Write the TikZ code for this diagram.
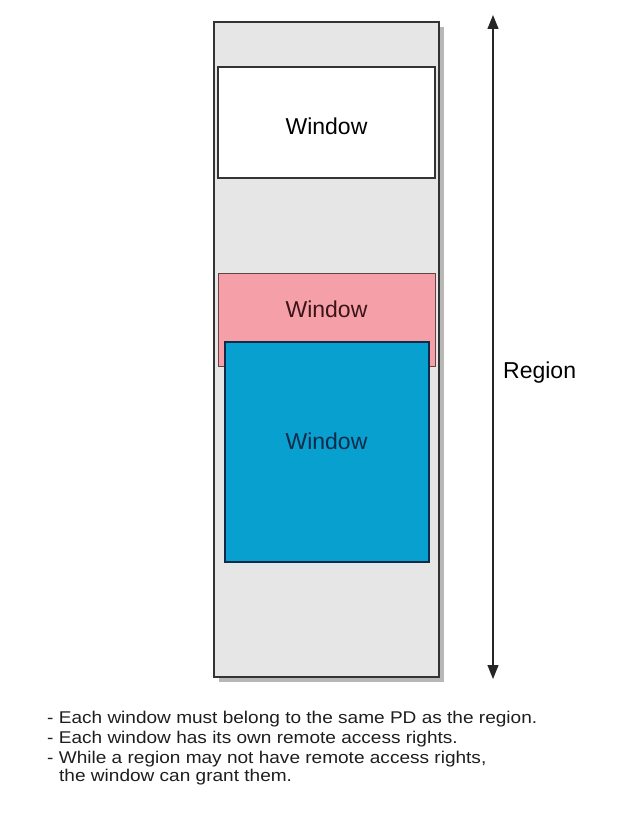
\documentclass[tikz,border=0pt]{standalone}
\usepackage{fontspec}
\setmainfont{Liberation Sans}
\newfontfamily\widefont[FakeStretch=1.12]{Liberation Sans}
\usetikzlibrary{shadows,arrows.meta}
\definecolor{regiongray}{HTML}{E6E6E6}
\definecolor{winpink}{HTML}{F5A0A8}
\definecolor{winblue}{HTML}{08A0CE}
\definecolor{navy}{HTML}{102A4C}
\definecolor{maroon}{HTML}{3C1418}
\definecolor{txtgray}{HTML}{1E1E1E}
\tikzset{
  boxline/.style={line width=1.3pt, draw=black!80},
  wintext/.style={font=\fontsize{23}{26}\selectfont},
  notetext/.style={font=\widefont\fontsize{17}{20}\selectfont, text=txtgray, anchor=base west, inner sep=0pt},
}
\begin{document}
\begin{tikzpicture}[x=1pt,y=-1pt]
\useasboundingbox (0,0) rectangle (634,813);
\fill[white] (0,0) rectangle (634,813);
% region
\draw[boxline, fill=regiongray, drop shadow={shadow xshift=5pt, shadow yshift=-5pt, opacity=0.4, fill=black!70}] (214,22) rectangle (439,677);
% white window
\draw[boxline, fill=white] (218,67) rectangle (435,178);
\node[wintext] (w1) at (326.5,126) {Window};
% pink window
\draw[line width=1pt, draw=maroon!80, fill=winpink] (218,273) rectangle (435,366);
\node[wintext, text=maroon] (w2) at (326.5,309) {Window};
% blue window
\draw[line width=1.3pt, draw=navy, fill=winblue] (225,342) rectangle (429,562);
\node[wintext, text=navy] (w3) at (326.5,441) {Window};
% arrow
\coordinate (atop) at (493,15);
\coordinate (abot) at (493,679);
\draw[line width=1.2pt, black!85, {Triangle[length=14pt,width=11pt]}-{Triangle[length=14pt,width=11pt]}] (atop) -- (abot);
\node[wintext, anchor=west, inner sep=0pt] (reg) at (503,373) {Region};
% notes
\node[notetext] (n1) at (47,723) {- Each window must belong to the same PD as the region.};
\node[notetext] (n2) at (47,743) {- Each window has its own remote access rights.};
\node[notetext] (n3) at (47,763) {- While a region may not have remote access rights,};
\node[notetext] (n4) at (59,781) {the window can grant them.};
\end{tikzpicture}
\end{document}
